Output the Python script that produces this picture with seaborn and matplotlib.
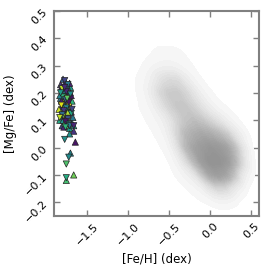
import numpy as np
import pandas as pd
import seaborn as sns
import matplotlib.pyplot as plt
from matplotlib.colors import LinearSegmentedColormap

# background survey stars: density of grey dots on a coarse grid
grid_feh = [-1.5, -1.4, -1.3, -1.2, -1.1, -1.0, -0.9, -0.8, -0.7, -0.6, -0.5,
            -0.4, -0.3, -0.2, -0.1, 0.0, 0.1, 0.2, 0.3, 0.4, 0.5]
grid_mgfe = [0.40, 0.35, 0.30, 0.25, 0.20, 0.15, 0.10, 0.05, 0.00, -0.05, -0.10, -0.15, -0.20]
density = [
    # -1.5 -1.4 -1.3 -1.2 -1.1 -1.0 -0.9 -0.8 -0.7 -0.6 -0.5 -0.4 -0.3 -0.2 -0.1  0.0  0.1  0.2  0.3  0.4  0.5
    [0.0, 0.0, 0.0, 0.0, 0.0, 0.0, 0.0, 0.1, 0.1, 0.1, 0.1, 0.1, 0.1, 0.0, 0.0, 0.0, 0.0, 0.0, 0.0, 0.0, 0.0],
    [0.0, 0.0, 0.0, 0.0, 0.0, 0.1, 0.1, 0.1, 0.2, 0.3, 0.3, 0.3, 0.2, 0.1, 0.1, 0.0, 0.0, 0.0, 0.0, 0.0, 0.0],
    [0.0, 0.0, 0.0, 0.0, 0.1, 0.1, 0.1, 0.2, 0.4, 0.6, 0.7, 0.6, 0.4, 0.2, 0.1, 0.1, 0.0, 0.0, 0.0, 0.0, 0.0],
    [0.0, 0.0, 0.0, 0.1, 0.1, 0.1, 0.2, 0.4, 1.0, 2.2, 2.8, 2.8, 1.5, 0.6, 0.2, 0.1, 0.1, 0.0, 0.0, 0.0, 0.0],
    [0.0, 0.0, 0.1, 0.1, 0.1, 0.1, 0.2, 0.5, 1.5, 3.2, 4.0, 4.0, 3.2, 2.0, 0.8, 0.3, 0.1, 0.1, 0.0, 0.0, 0.0],
    [0.0, 0.0, 0.1, 0.1, 0.1, 0.1, 0.2, 0.3, 0.8, 2.0, 3.2, 4.0, 4.0, 3.2, 2.0, 1.0, 0.4, 0.2, 0.1, 0.0, 0.0],
    [0.0, 0.0, 0.0, 0.1, 0.1, 0.1, 0.1, 0.2, 0.4, 0.8, 1.5, 3.0, 4.0, 4.5, 4.0, 3.0, 2.0, 1.0, 0.4, 0.1, 0.0],
    [0.0, 0.0, 0.0, 0.0, 0.1, 0.1, 0.1, 0.1, 0.2, 0.4, 1.0, 3.0, 5.0, 6.0, 6.5, 6.0, 5.0, 4.0, 2.0, 0.8, 0.1],
    [0.0, 0.0, 0.0, 0.0, 0.0, 0.1, 0.1, 0.1, 0.1, 0.2, 0.5, 2.0, 5.0, 7.0, 8.0, 9.0, 8.5, 7.5, 5.0, 2.0, 0.2],
    [0.0, 0.0, 0.0, 0.0, 0.0, 0.0, 0.0, 0.1, 0.1, 0.1, 0.2, 0.8, 2.5, 5.0, 8.0, 10., 10., 9.0, 6.0, 2.5, 0.3],
    [0.0, 0.0, 0.0, 0.0, 0.0, 0.0, 0.0, 0.0, 0.0, 0.1, 0.1, 0.3, 0.8, 1.5, 4.0, 7.0, 8.0, 7.0, 4.0, 1.0, 0.2],
    [0.0, 0.0, 0.0, 0.0, 0.0, 0.0, 0.0, 0.0, 0.0, 0.0, 0.0, 0.1, 0.2, 0.4, 0.8, 2.0, 3.0, 2.5, 1.0, 0.3, 0.0],
    [0.0, 0.0, 0.0, 0.0, 0.0, 0.0, 0.0, 0.0, 0.0, 0.0, 0.0, 0.0, 0.0, 0.1, 0.2, 0.3, 0.5, 0.4, 0.2, 0.0, 0.0],
]

# metal-poor sample: triangles up / down, colour = third quantity
up_feh = [-1.79, -1.76, -1.73, -1.81, -1.70, -1.77, -1.74, -1.80, -1.72, -1.76, -1.82, -1.73, -1.68,
          -1.79, -1.75, -1.78, -1.70, -1.81, -1.76, -1.73, -1.80, -1.69, -1.78, -1.75, -1.72, -1.79,
          -1.83, -1.76, -1.73, -1.68, -1.80, -1.75, -1.78, -1.71, -1.76, -1.81, -1.73, -1.79, -1.70,
          -1.75, -1.84, -1.67, -1.82, -1.69, -1.77, -1.72, -1.80, -1.66, -1.83, -1.71, -1.74, -1.78,
          -1.66, -1.71, -1.64, -1.70, -1.75, -1.66]
up_mgfe = [0.25, 0.24, 0.23, 0.22, 0.22, 0.21, 0.20, 0.20, 0.19, 0.19, 0.18, 0.18, 0.17,
           0.17, 0.16, 0.16, 0.15, 0.15, 0.14, 0.14, 0.13, 0.13, 0.12, 0.12, 0.11, 0.11,
           0.10, 0.10, 0.09, 0.09, 0.08, 0.08, 0.075, 0.07, 0.21, 0.17, 0.13, 0.10, 0.20,
           0.15, 0.14, 0.11, 0.23, 0.19, 0.09, 0.165, 0.12, 0.08, 0.19, 0.235, 0.225, 0.145,
           0.06, 0.05, 0.02, -0.02, -0.12, -0.10]
up_c = [0.30, 0.15, 0.45, 0.05, 0.55, 0.35, 0.10, 0.60, 0.25, 0.95, 0.40, 0.05, 0.65,
        0.90, 0.20, 0.50, 0.98, 0.10, 0.70, 0.30, 0.92, 0.15, 0.55, 0.05, 0.85, 0.35,
        0.60, 0.95, 0.05, 0.45, 0.20, 0.75, 0.10, 0.55, 0.40, 0.08, 0.88, 0.50, 0.25,
        0.62, 0.92, 0.40, 0.15, 0.05, 0.70, 0.96, 0.30, 0.55, 0.45, 0.10, 0.35, 0.80,
        0.15, 0.50, 0.05, 0.45, 0.70, 0.78]

dn_feh = [-1.77, -1.73, -1.80, -1.75, -1.70, -1.79, -1.76, -1.72, -1.81, -1.75, -1.78, -1.69,
          -1.79, -1.73, -1.76, -1.72, -1.80, -1.74, -1.77, -1.82, -1.68, -1.83, -1.71, -1.76,
          -1.66, -1.77, -1.72, -1.75, -1.75]
dn_mgfe = [0.245, 0.23, 0.215, 0.205, 0.195, 0.185, 0.175, 0.165, 0.155, 0.145, 0.135, 0.125,
           0.115, 0.105, 0.095, 0.085, 0.12, 0.18, 0.22, 0.20, 0.14, 0.11, 0.08, 0.075,
           0.08, 0.03, -0.035, -0.06, -0.11]
dn_c = [0.20, 0.40, 0.90, 0.10, 0.50, 0.65, 0.30, 0.05, 0.95, 0.45, 0.15, 0.60,
        0.85, 0.25, 0.05, 0.50, 0.35, 0.75, 0.12, 0.55, 0.20, 0.90, 0.40, 0.65,
        0.10, 0.50, 0.48, 0.72, 0.62]

bg = pd.DataFrame([(x, y, density[i][j]) for i, y in enumerate(grid_mgfe)
                   for j, x in enumerate(grid_feh)], columns=["feh", "mgfe", "w"])
bg = bg[bg.w > 0]

stars = pd.DataFrame({
    "feh": up_feh + dn_feh,
    "mgfe": up_mgfe + dn_mgfe,
    "c": up_c + dn_c,
    "m": ["up"] * len(up_feh) + ["down"] * len(dn_feh),
})

sns.set_style("ticks")
plt.rcParams["font.family"] = ["DejaVu Sans"]

fig = plt.figure(figsize=(2.7, 2.7), dpi=100)
ax = fig.add_axes([0.2, 0.2, 0.76, 0.76])

greys = LinearSegmentedColormap.from_list("g", ["#f8f8f8", "#dddddd", "#bababa", "#a0a0a0", "#939393"])
sns.kdeplot(data=bg, x="feh", y="mgfe", weights="w", fill=True, cmap=greys,
            levels=30, thresh=0.03, bw_adjust=0.45, gridsize=150, ax=ax, zorder=1)

sns.scatterplot(data=stars, x="feh", y="mgfe", hue="c", style="m",
                markers={"up": "^", "down": "v"}, palette="viridis", hue_norm=(0, 1),
                s=20, edgecolor="#222222", linewidth=0.5, legend=False, ax=ax, zorder=3)

ax.set_xlim(-1.9, 0.6)
ax.set_ylim(-0.25, 0.5)
ax.set_xticks([-1.5, -1.0, -0.5, 0.0, 0.5])
ax.set_yticks([-0.2, -0.1, 0.0, 0.1, 0.2, 0.3, 0.4, 0.5])
ax.set_xlabel("[Fe/H] (dex)", fontsize=8.5, color="black")
ax.set_ylabel("[Mg/Fe] (dex)", fontsize=8.5, color="black")
ax.tick_params(direction="in", top=True, right=True, length=4, width=1,
               color="#808080", labelsize=8, labelcolor="black")
plt.setp(ax.get_xticklabels(), rotation=45)
plt.setp(ax.get_yticklabels(), rotation=45)
for s in ax.spines.values():
    s.set_color("#808080")
    s.set_linewidth(1.5)

fig.savefig("out.png", dpi=100)
